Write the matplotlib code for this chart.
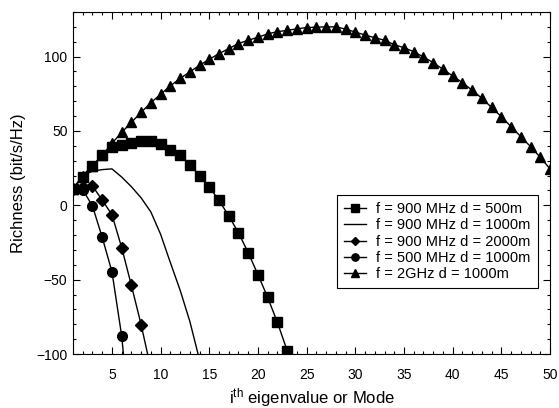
import matplotlib
matplotlib.use("Agg")
import matplotlib.pyplot as plt
from matplotlib.ticker import MultipleLocator

plt.rcParams['font.family'] = ['Liberation Sans', 'DejaVu Sans']
plt.rcParams['mathtext.fontset'] = 'custom'
plt.rcParams['mathtext.rm'] = 'Liberation Sans'
plt.rcParams['mathtext.it'] = 'Liberation Sans:italic'

# Data
x_sq = list(range(1, 24))
y_sq = [11, 19, 26.7, 33.5, 39, 40.6, 42, 43.5, 43.5, 41.3, 37.5, 33.8, 27.4, 19.9,
        12.3, 3.3, -7.1, -18.5, -31.9, -46.6, -62, -78.8, -97.7]

x_line = list(range(1, 15))
y_line = [11, 20, 23, 24, 24.5, 19, 12.5, 5, -4.5, -19.5, -38.5, -57, -78, -104]

x_dia = list(range(1, 10))
y_dia = [11, 12, 13, 3.5, -6.3, -28.4, -53.9, -80.3, -110]

x_cir = list(range(1, 8))
y_cir = [11, 10.5, -0.5, -21.5, -44.6, -87.8, -155]

x_tri = list(range(1, 51))
y_tri = [11, 20, 26.7, 33.5, 41.7, 49, 55.8, 62.5, 69, 74.7,
         80.3, 85.3, 89.7, 94.2, 98.2, 102, 105.4, 108.8, 111, 113,
         115.3, 116.8, 117.6, 118.7, 119.5, 119.8, 120, 120, 118.5, 116.5,
         114.5, 112.7, 111, 108, 106, 103.3, 99.7, 96, 91.5, 87,
         82.5, 77.4, 72, 65.8, 59.6, 52.9, 46.2, 39.5, 32.3, 24.5]

labels = ["f = 900 MHz d = 500m", "f = 900 MHz d = 1000m", "f = 900 MHz d = 2000m",
          "f = 500 MHz d = 1000m", "f = 2GHz d = 1000m"]

fig = plt.figure(figsize=(5.59, 4.08), dpi=100)
ax = fig.add_axes([73/559, 1-354/408, (550-73)/559, (354-12)/408])

lw = 1.0
ax.plot(x_sq, y_sq, '-', color='black', lw=lw, marker='s', ms=7, label=labels[0])
ax.plot(x_line, y_line, '-', color='black', lw=lw, label=labels[1])
ax.plot(x_dia, y_dia, '-', color='black', lw=lw, marker='D', ms=6, label=labels[2])
ax.plot(x_cir, y_cir, '-', color='black', lw=lw, marker='o', ms=7, label=labels[3])
ax.plot(x_tri, y_tri, '-', color='black', lw=lw, marker='^', ms=7.5, label=labels[4])

ax.set_xlim(1, 50)
ax.set_ylim(-100, 130)
ax.xaxis.set_major_locator(MultipleLocator(5))
ax.xaxis.set_minor_locator(MultipleLocator(1))
ax.yaxis.set_major_locator(MultipleLocator(50))
ax.yaxis.set_minor_locator(MultipleLocator(10))
ax.set_xticks([5, 10, 15, 20, 25, 30, 35, 40, 45, 50])

ax.tick_params(which='both', direction='in', top=True, right=True, labelsize=10, colors='black')
ax.tick_params(which='major', length=5, width=0.8)
ax.tick_params(which='minor', length=2.5, width=0.8)
ax.tick_params(axis='x', which='major', pad=10)
ax.tick_params(axis='y', which='major', pad=4)
for s in ax.spines.values():
    s.set_linewidth(0.8)

ax.set_xlabel(r"i$^{\mathrm{th}}$ eigenvalue or Mode", fontsize=12, labelpad=3)
ax.set_ylabel("Richness (bit/s/Hz)", fontsize=12, labelpad=7)

leg = ax.legend(loc='upper left', bbox_to_anchor=(337/559, 1-195/408),
                bbox_transform=fig.transFigure, borderaxespad=0,
                fancybox=False, edgecolor='black', framealpha=1,
                fontsize=10.5, handlelength=1.5, handletextpad=0.7,
                labelspacing=0.15, borderpad=0.5, numpoints=1, markerscale=0.75)
leg.get_frame().set_linewidth(0.8)

fig.savefig("out.png", dpi=100)
